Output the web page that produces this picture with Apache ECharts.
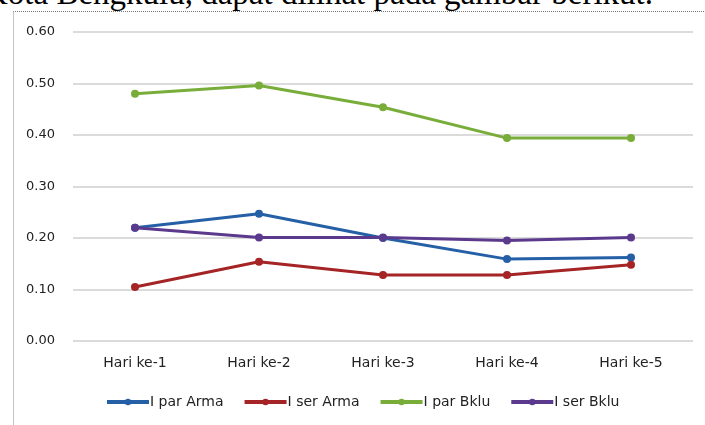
<!DOCTYPE html>
<html>
<head>
<meta charset="utf-8">
<script src="https://cdn.jsdelivr.net/npm/echarts@6/dist/echarts.min.js"></script>
<style>
  html, body { margin: 0; padding: 0; background: #fff; overflow: hidden; }
  #page { position: relative; width: 705px; height: 425px; }
  #caption {
    position: absolute; left: -16px; top: -25px; white-space: nowrap;
    font-family: "Liberation Serif", "DejaVu Serif", serif; font-size: 33px; color: #000;
  }
  #frame {
    position: absolute; left: 13px; top: 11px; width: 692px; height: 414px;
    border-left: 1px solid #c4c4c4; border-top: 1px dotted #777;
  }
  #chart { position: absolute; left: 0; top: 0; width: 705px; height: 425px; }
</style>
</head>
<body>
<div id="page">
  <div id="caption">Kota Bengkulu, dapat dilihat pada gambar berikut.</div>
  <div id="frame"></div>
  <div id="chart"></div>
</div>
<script>
// data
const days = ['Hari ke-1', 'Hari ke-2', 'Hari ke-3', 'Hari ke-4', 'Hari ke-5']
const iParArma = [0.22, 0.247, 0.20, 0.159, 0.162]
const iSerArma = [0.105, 0.154, 0.128, 0.128, 0.148]
const iParBklu = [0.48, 0.496, 0.454, 0.394, 0.394]
const iSerBklu = [0.22, 0.201, 0.201, 0.195, 0.201]
const seriesNames = ['I par Arma', 'I ser Arma', 'I par Bklu', 'I ser Bklu']
const colors = ['#2560a6', '#a52426', '#79ad3a', '#5b3a8e']

const font = '"DejaVu Sans", Verdana, sans-serif'

function makeLine(name, data, color) {
  return {
    name: name,
    type: 'line',
    data: data,
    symbol: 'circle',
    symbolSize: 8,
    itemStyle: { color: color },
    lineStyle: { color: color, width: 3 },
  }
}

const myChart = echarts.init(document.getElementById('chart'))
myChart.setOption({
  animation: false,
  grid: { left: 73, right: 12, top: 32, bottom: 84, containLabel: false },
  legend: {
    top: 390,
    left: 100,
    itemWidth: 42,
    itemHeight: 8,
    itemGap: 19,
    lineStyle: { width: 4 },
    textStyle: { fontFamily: font, fontSize: 14, color: '#222', padding: [0, 0, 0, -4] },
    data: seriesNames,
  },
  xAxis: {
    type: 'category',
    data: days,
    axisLine: { show: false },
    axisTick: { show: false },
    axisLabel: { fontFamily: font, fontSize: 14, color: '#222', margin: 15 },
  },
  yAxis: {
    type: 'value',
    min: 0,
    max: 0.6,
    interval: 0.1,
    axisLine: { show: false },
    axisTick: { show: false },
    axisLabel: {
      fontFamily: font, fontSize: 13, color: '#222', margin: 18,
      formatter: (v) => v.toFixed(2),
    },
    splitLine: { lineStyle: { color: '#cfcfcf', width: 1.5 } },
  },
  series: [
    makeLine(seriesNames[0], iParArma, colors[0]),
    makeLine(seriesNames[1], iSerArma, colors[1]),
    makeLine(seriesNames[2], iParBklu, colors[2]),
    makeLine(seriesNames[3], iSerBklu, colors[3]),
  ],
})
</script>
</body>
</html>
